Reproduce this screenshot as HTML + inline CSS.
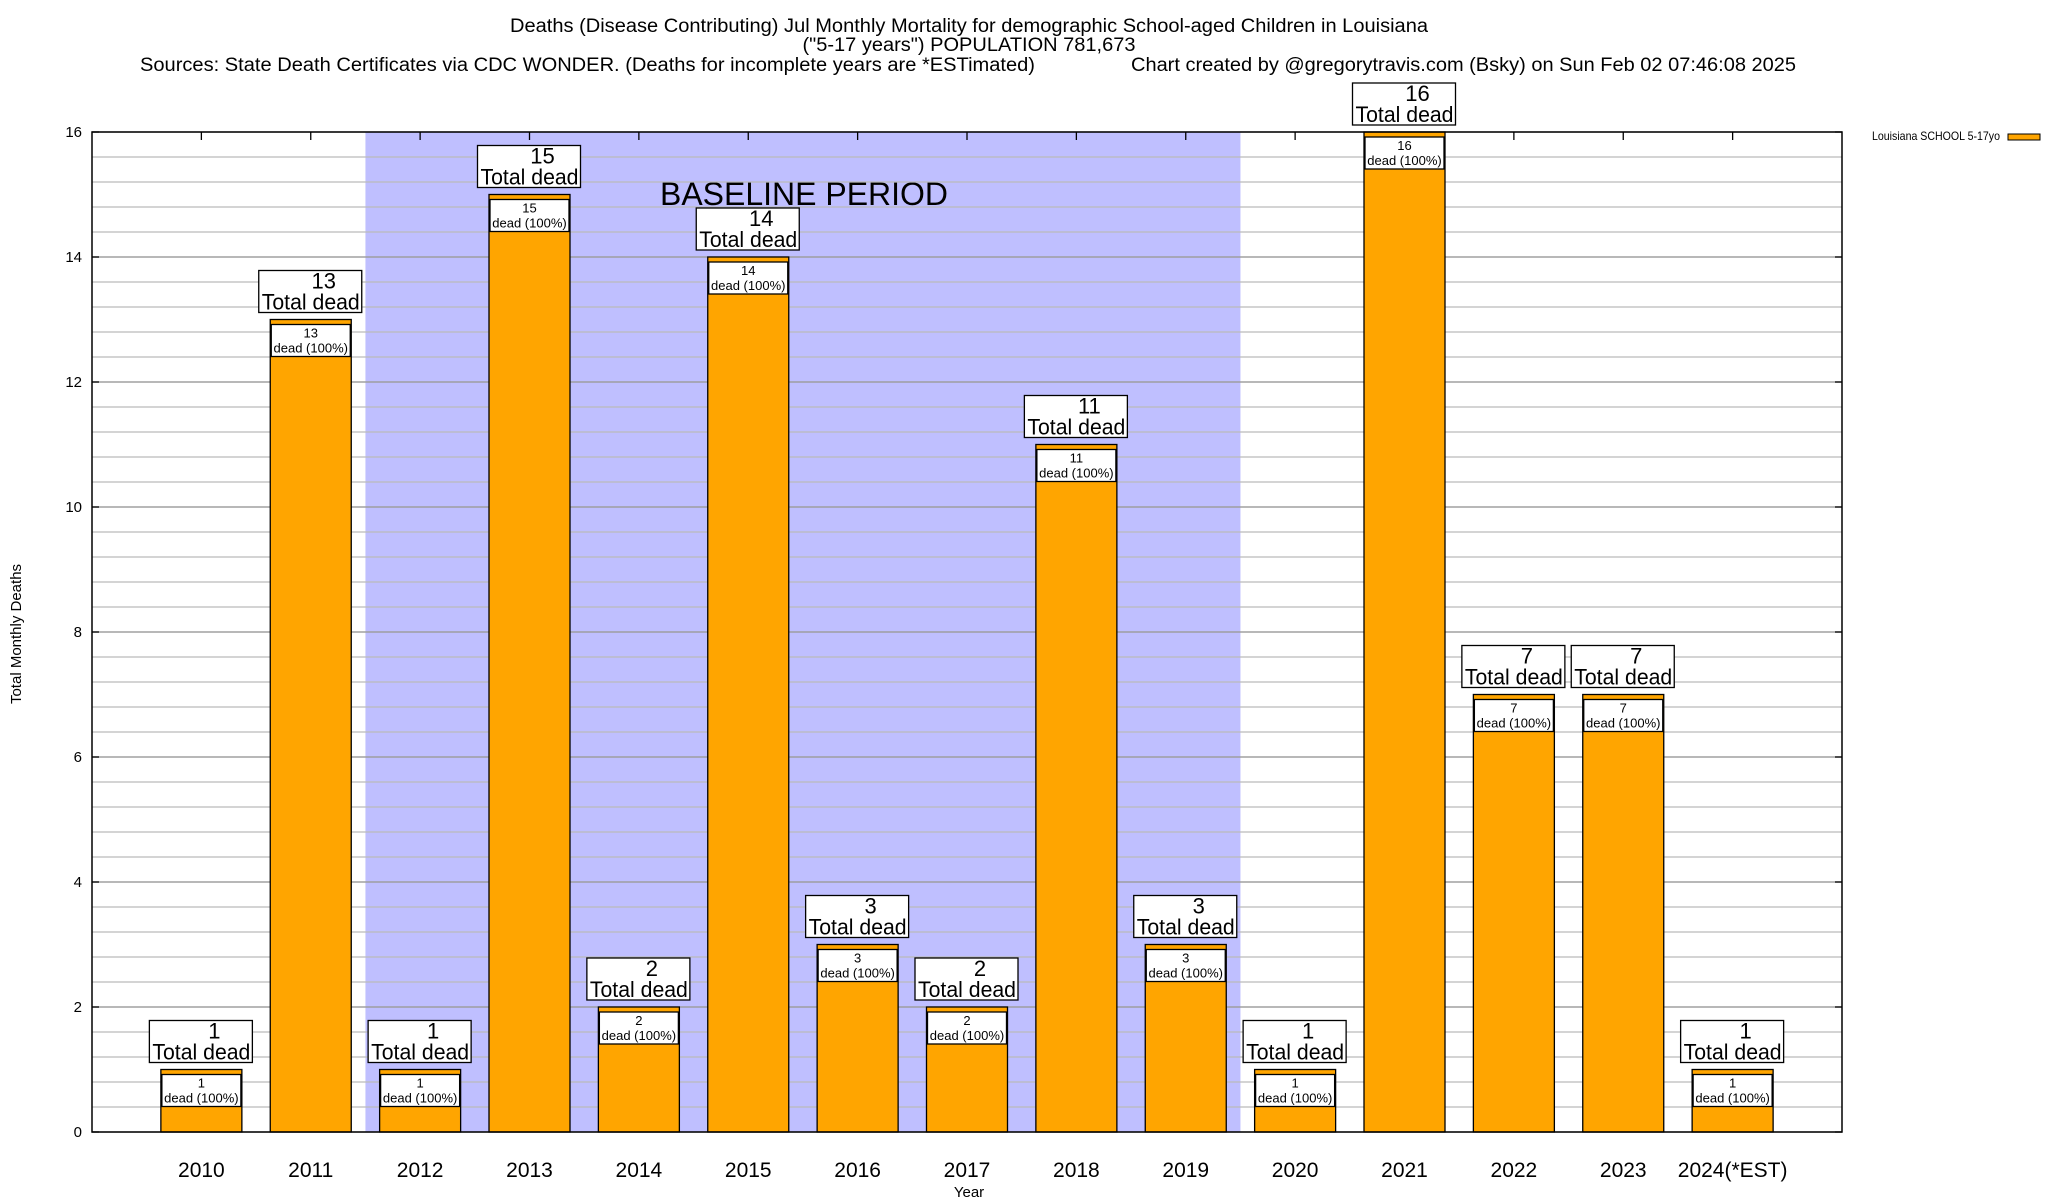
<!DOCTYPE html>
<html><head><meta charset="utf-8"><style>
html,body{margin:0;padding:0;background:#fff}
svg{display:block;font-family:"Liberation Sans",Arial,sans-serif}
</style></head><body>
<svg id="chart" width="2048" height="1200" viewBox="0 0 2048 1200" xmlns="http://www.w3.org/2000/svg">
<g>
<text x="969" y="32" font-size="19" text-anchor="middle" textLength="918" lengthAdjust="spacingAndGlyphs">Deaths (Disease Contributing) Jul Monthly Mortality for demographic School-aged Children in Louisiana</text>
<text x="969" y="51" font-size="19" text-anchor="middle" textLength="333" lengthAdjust="spacingAndGlyphs">("5-17 years") POPULATION 781,673</text>
<text x="140" y="71" font-size="19" textLength="895" lengthAdjust="spacingAndGlyphs">Sources: State Death Certificates via CDC WONDER. (Deaths for incomplete years are *ESTimated)</text>
<text x="1131" y="71" font-size="19" textLength="665" lengthAdjust="spacingAndGlyphs">Chart created by @gregorytravis.com (Bsky) on Sun Feb 02 07:46:08 2025</text>
</g>
<g id="plot"></g>
<text x="21" y="634" font-size="15" text-anchor="middle" transform="rotate(-90 21 634)">Total Monthly Deaths</text>
<text x="969" y="1197" font-size="15" text-anchor="middle">Year</text>
<g>
<text x="2000" y="140" font-size="12" text-anchor="end" textLength="128" lengthAdjust="spacingAndGlyphs">Louisiana SCHOOL 5-17yo</text>
<rect x="2008" y="134" width="32" height="6" fill="#ffa500" stroke="#000" stroke-width="1"/>
</g>
</svg>
<script>
const categories = ["2010","2011","2012","2013","2014","2015","2016","2017","2018","2019","2020","2021","2022","2023","2024(*EST)"];
const deaths = [1,13,1,15,2,14,3,2,11,3,1,16,7,7,1];
const yTicks = [0,2,4,6,8,10,12,14,16];
const baselineStart = 2; // index of 2012
const baselineEnd = 9;   // index of 2019

const L=92, R=1842, T=132, B=1132, yMax=16;
const step=(R-L)/(categories.length+1);
const xc=i=>L+step*(i+1);
const y=v=>B-(v/yMax)*(B-T);
const NS="http://www.w3.org/2000/svg";
const plot=document.getElementById('plot');
function mk(tag,attrs,parent){const e=document.createElementNS(NS,tag);for(const k in attrs)e.setAttribute(k,attrs[k]);(parent||plot).appendChild(e);return e;}

const sh=mk('rect',{x:xc(baselineStart)-step/2,y:T,width:(baselineEnd-baselineStart+1)*step,height:B-T,fill:'#bfbfff'});


const bt=mk('text',{x:804,y:205,'font-size':32,'text-anchor':'middle',textLength:288,lengthAdjust:'spacingAndGlyphs'});
bt.textContent='BASELINE PERIOD';



for(let v=0.4;v<yMax;v+=0.4){
  const g=mk('line',{x1:L,x2:R,y1:y(v),y2:y(v),stroke:'#bbb','stroke-width':1.3});
  
  
}
yTicks.forEach(v=>{
  const g=mk('line',{x1:L,x2:R,y1:y(v),y2:y(v),stroke:'#999','stroke-width':1.3});
  
  
  mk('line',{x1:R-7,x2:R,y1:y(v),y2:y(v),stroke:'#000','stroke-width':1.3});
  mk('line',{x1:L,x2:L+7,y1:y(v),y2:y(v),stroke:'#000','stroke-width':1.3});
  const t=mk('text',{x:82,y:y(v)+5,'font-size':15,'text-anchor':'end'});
  t.textContent=v;
  
  
});

const bw=81;
categories.forEach((c,i)=>{
  const cx=xc(i), v=deaths[i], top=y(v);
  mk('line',{x1:cx,x2:cx,y1:T,y2:T+8,stroke:'#000','stroke-width':1.3});
  const bar=mk('rect',{x:cx-bw/2,y:top,width:bw,height:B-top,fill:'#ffa500',stroke:'#000','stroke-width':1.3});
  
  
  const ib=mk('rect',{x:cx-bw/2+1,y:top+5,width:bw-2,height:32,fill:'#fff',stroke:'#000','stroke-width':1.3});
  
  
  const t1=mk('text',{x:cx,y:top+18,'font-size':13,'text-anchor':'middle'});
  t1.textContent=v;
  
  
  const t2=mk('text',{x:cx,y:top+33,'font-size':13,'text-anchor':'middle'});
  t2.textContent='dead (100%)';
  
  
  const tb=mk('rect',{x:cx-52,y:top-49,width:103,height:42,fill:'#fff',stroke:'#000','stroke-width':1.3});
  
  
  const t3=mk('text',{x:cx+13,y:top-31,'font-size':22,'text-anchor':'middle'});
  t3.textContent=v;
  
  
  const t4=mk('text',{x:cx,y:top-10,'font-size':22,'text-anchor':'middle',textLength:98,lengthAdjust:'spacingAndGlyphs'});
  t4.textContent='Total dead';
  
  
  const xl=mk('text',{x:cx,y:1177,'font-size':21,'text-anchor':'middle'});
  xl.textContent=c;
  
  
});
const fr=mk('rect',{x:L,y:T,width:R-L,height:B-T,fill:'none',stroke:'#000','stroke-width':1.5});


</script>
</body></html>
